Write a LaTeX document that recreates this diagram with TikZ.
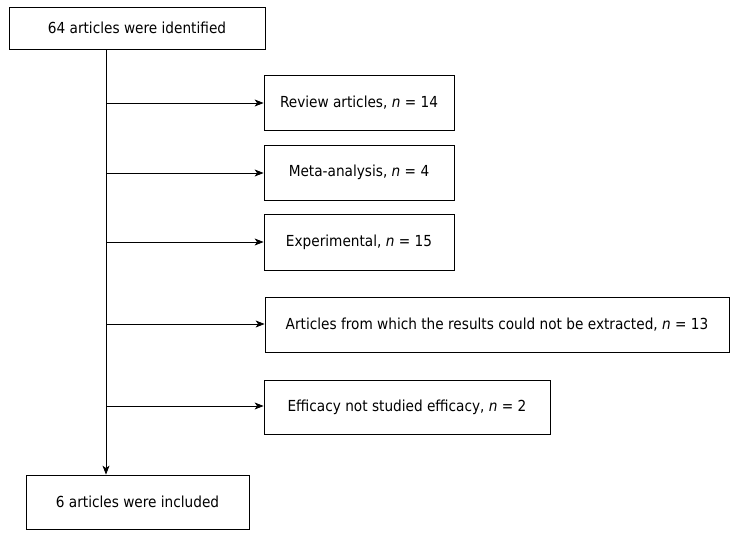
\documentclass[tikz,border=0pt]{standalone}
\usepackage{fontspec}
\setmainfont{DejaVu Sans Condensed}
\usetikzlibrary{arrows.meta}
\begin{document}
\begin{tikzpicture}[x=1pt,y=-1pt,
  box/.style={draw,line width=0.8pt,inner sep=0pt,font=\fontsize{15.2}{17}\selectfont},
  conn/.style={line width=0.8pt,-{Stealth[length=9pt,width=7pt,inset=2.5pt]}}]
\useasboundingbox (0,0) rectangle (739,540);
\node[box,minimum width=256pt,minimum height=42pt] (top) at (137,28) {64 articles were identified};
\node[box,minimum width=190pt,minimum height=55pt] (b1) at (359,102.5) {Review articles, \textit{n} = 14};
\node[box,minimum width=190pt,minimum height=55pt] (b2) at (359,172.5) {Meta-analysis, \textit{n} = 4};
\node[box,minimum width=190pt,minimum height=56pt] (b3) at (359,242) {Experimental, \textit{n} = 15};
\node[box,minimum width=464pt,minimum height=55pt] (b4) at (497,324.5) {Articles from which the results could not be extracted, \textit{n} = 13};
\node[box,minimum width=286pt,minimum height=54pt] (b5) at (407,407) {Efficacy not studied efficacy, \textit{n} = 2};
\node[box,minimum width=223pt,minimum height=54pt] (bot) at (137.5,502) {6 articles were included};
\coordinate (c1) at (106,103);
\coordinate (c2) at (106,173);
\coordinate (c3) at (106,242);
\coordinate (c4) at (106,324);
\coordinate (c5) at (106,406);
\draw[conn] (top.south -| c1) -- (bot.north -| c1);
\draw[conn] (c1) -- (c1 -| b1.west);
\draw[conn] (c2) -- (c2 -| b2.west);
\draw[conn] (c3) -- (c3 -| b3.west);
\draw[conn] (c4) -- (c4 -| b4.west);
\draw[conn] (c5) -- (c5 -| b5.west);
\end{tikzpicture}
\end{document}
